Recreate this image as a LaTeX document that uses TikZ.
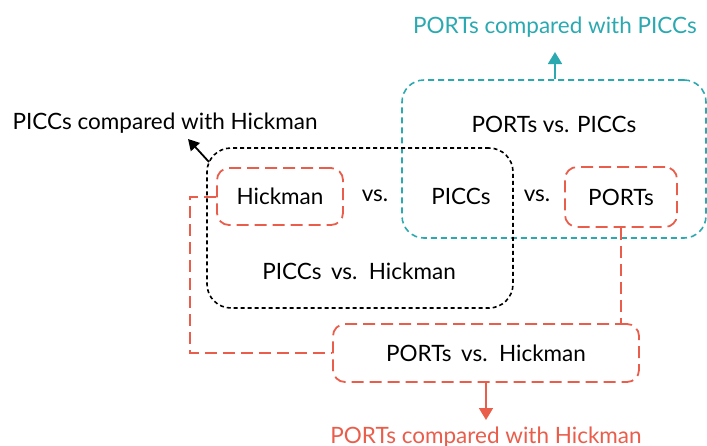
\documentclass[tikz,border=0pt]{standalone}
\usepackage{fontspec}
\setmainfont{Lato}
\usetikzlibrary{arrows.meta}
\definecolor{cred}{HTML}{EA5D4B}
\definecolor{cteal}{HTML}{2BA9B0}
\begin{document}
\begin{tikzpicture}[x=1pt,y=-1pt,
  txt/.style={font=\fontsize{22.5}{26}\selectfont, inner sep=0pt},
  blk/.style={draw=black, line width=1.6pt, dash pattern=on 4pt off 3pt, rounded corners=24pt},
  redbox/.style={draw=cred, line width=1.8pt, dash pattern=on 12pt off 6pt, rounded corners=12pt},
  tealbox/.style={draw=cteal, line width=1.6pt, dash pattern=on 6pt off 4pt, rounded corners=22pt},
  redline/.style={draw=cred, line width=2pt, dash pattern=on 12pt off 6pt},
]
\useasboundingbox (0,0) rectangle (707,445);
% boxes
\node[tealbox, minimum width=304pt, minimum height=158pt] (teal) at (554,159) {};
\node[blk, minimum width=306pt, minimum height=160pt] (black) at (360,228) {};
\node[redbox, minimum width=126pt, minimum height=57pt] (hick) at (280,196.5) {};
\node[redbox, minimum width=112pt, minimum height=60pt] (ports) at (621,197) {};
\node[redbox, minimum width=306pt, minimum height=58pt] (ph) at (486,353) {};
% texts
\node[txt] (thick) at (hick) {Hickman};
\node[txt] (tports) at (ports) {PORTs};
\node[txt] (vs1) at (375,196) {vs.};
\node[txt] (piccs) at (461,196) {PICCs};
\node[txt] (vs2) at (537,196) {vs.};
\node[txt] (tpp) at (554,124) {PORTs vs. PICCs};
\node[txt] (tph) at (359,271) {PICCs\, vs.\, Hickman};
\node[txt] (tphk) at (486,353) {PORTs\, vs.\, Hickman};
\node[txt, text=cteal] (lteal) at (555,27) {PORTs compared with PICCs};
\node[txt] (lblack) at (165,123) {PICCs compared with Hickman};
\node[txt, text=cred] (lred) at (486,437) {PORTs compared with Hickman};
% connectors
\draw[redline] (hick.west) -- (190,196.5) |- (ph.west);
\draw[redline] (ports.south) -- (ports.south |- ph.north);
\draw[cteal, line width=1.8pt, -{Triangle[length=12pt,width=14pt]}] (teal.north -| lteal) -- (555,52);
\coordinate (bk) at (209,162);
\draw[black, line width=1.8pt, -{Triangle[length=11pt,width=12pt]}] (bk) -- (188,139);
\draw[cred, line width=1.8pt, -{Triangle[length=12pt,width=14pt]}] (ph.south) -- (486,420);
\end{tikzpicture}
\end{document}
